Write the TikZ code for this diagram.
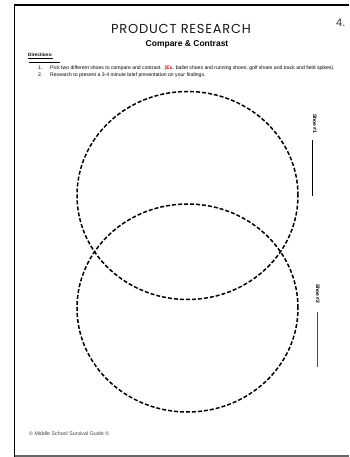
\documentclass[tikz,border=0pt]{standalone}
\usepackage{fontspec}
\setmainfont{Liberation Sans}
\newfontfamily\titlefont[LetterSpace=6]{Poppins}
\usetikzlibrary{shapes.geometric}
\begin{document}
\begin{tikzpicture}[x=1pt,y=-1pt,
  frameline/.style={line width=1.6pt},
  venn/.style={draw, ellipse, inner sep=0pt, minimum width=221pt, minimum height=208pt,
     line width=1.5pt, dash pattern=on 4pt off 2pt},
  tiny/.style={font=\fontsize{5.1}{5}\selectfont, anchor=west, inner sep=0pt},
  shoelbl/.style={font=\fontsize{5}{5}\selectfont\bfseries, rotate=-90, inner sep=0pt, anchor=west},
  writeline/.style={line width=0.7pt}]
\useasboundingbox (0,0) rectangle (349,457);
% frame
\draw[frameline] (14.5,457) -- (14.5,5) -- (349,5);
\draw[line width=1.2pt, black!60] (14.5,456) -- (349,456);
% page number
\node[font=\fontsize{11}{11}\selectfont, text=black!80, anchor=west, inner sep=0pt] (pg) at (336,23) {4.};
% title
\node[font=\titlefont\fontsize{13}{13}\selectfont, text=black!90, inner sep=0pt] (title) at (181,29) {PRODUCT RESEARCH};
\node[font=\fontsize{8.5}{9}\selectfont\bfseries, inner sep=0pt] (sub) at (187,44) {Compare \& Contrast};
% directions
\node[tiny, font=\fontsize{4.7}{5}\selectfont\bfseries] (dir) at (28,56) {\underline{Directions:}};
\coordinate (r1) at (29,62);
\coordinate (r2) at (60,62);
\draw[line width=0.9pt] (r1) -- (r2);
\node[tiny] (n1) at (38,68) {1.};
\node[tiny] (t1) at (50,68) {Pick two different shoes to compare and contrast.\ \ ({\color{red!80!black}\bfseries Ex.} ballet shoes and running shoes; golf shoes and track and field spikes).};
\node[tiny] (n2) at (38,75) {2.};
\node[tiny] (t2) at (50,75) {Research to present a 3-4 minute brief presentation on your findings.};
% venn circles
\node[venn] (c1) at (187.5,195.5) {};
\node[venn] (c2) at (187.5,308) {};
% shoe labels
\node[shoelbl] (s1) at (315,114) {Shoe \#1};
\coordinate (l1a) at (312,140);
\coordinate (l1b) at (312,196);
\draw[writeline] (l1a) -- (l1b);
\node[shoelbl] (s2) at (318,284) {Shoe \#2};
\coordinate (l2a) at (317,312);
\coordinate (l2b) at (317,367);
\draw[writeline, black!70] (l2a) -- (l2b);
% footer
\node[tiny, font=\fontsize{5.3}{5}\selectfont, text=black!75] (foot) at (29,434) {\textcopyright{} Middle School Survival Guide \textcopyright};
\end{tikzpicture}
\end{document}
